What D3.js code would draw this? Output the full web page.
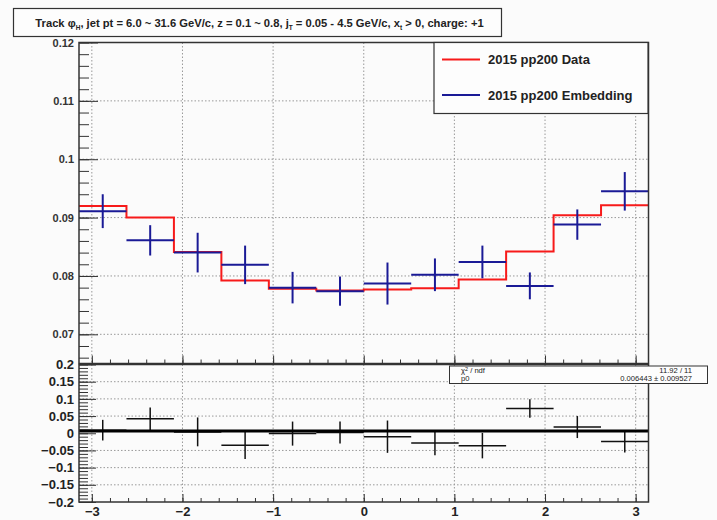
<!DOCTYPE html>
<html>
<head>
<meta charset="utf-8">
<script src="https://cdn.jsdelivr.net/npm/d3@7"></script>
<style>
  html, body { margin: 0; padding: 0; background: #fbfbfb; }
  svg { display: block; font-family: "Liberation Sans", Arial, sans-serif; }
</style>
</head>
<body>
<svg id="chart" width="717" height="520"></svg>
<script>
// ---------------- data ----------------
const binCenters = [-2.8798, -2.3562, -1.8326, -1.3090, -0.7854, -0.2618, 0.2618, 0.7854, 1.3090, 1.8326, 2.3562, 2.8798];
const binHalfWidth = 0.2618;
const dataValues   = [0.0920, 0.0900, 0.0841, 0.0792, 0.0778, 0.0775, 0.0777, 0.0779, 0.0794, 0.0842, 0.0904, 0.0921];
const embedValues  = [0.0911, 0.0861, 0.0840, 0.0819, 0.0780, 0.0774, 0.0787, 0.0802, 0.0824, 0.0783, 0.0888, 0.0945];
const embedErrors  = [0.0029, 0.0026, 0.0034, 0.0033, 0.0027, 0.0025, 0.0036, 0.0028, 0.0028, 0.0023, 0.0026, 0.0033];
const diffValues   = [0.009, 0.042, 0.004, -0.035, -0.001, 0.002, -0.010, -0.028, -0.036, 0.072, 0.018, -0.024];
const diffErrors   = [0.030, 0.033, 0.042, 0.040, 0.035, 0.032, 0.047, 0.036, 0.037, 0.027, 0.032, 0.032];
const fitP0 = 0.006443;
const fitStats = { chi2ndf: "11.92 / 11", p0: "0.006443 \u00b1 0.009527" };
const xTickLabels = [-3, -2, -1, 0, 1, 2, 3];
const yTickLabelsTop = [0.07, 0.08, 0.09, 0.1, 0.11, 0.12];
const yTickLabelsBottom = [-0.2, -0.15, -0.1, -0.05, 0, 0.05, 0.1, 0.15, 0.2];
const legendLabels = ["2015 pp200 Data", "2015 pp200 Embedding"];

// ---------------- layout ----------------
const svg = d3.select("#chart");
const L = 79, R = 648.5;
const topT = 42.5, topB = 363.5;
const botT = 364.5, botB = 502;
const frameColor = "#333";
const red = "#f71a1a", blue = "#1a1a96";

const x = d3.scaleLinear().domain([-Math.PI, Math.PI]).range([L, R]);
const yTop = d3.scaleLinear().domain([0.065, 0.12]).range([topB, topT]);
const yBot = d3.scaleLinear().domain([-0.2, 0.2]).range([botB, botT]);

const bins = binCenters.map((c, i) => ({
  c, x0: c - binHalfWidth, x1: c + binHalfWidth,
  d: dataValues[i], e: embedValues[i], ee: embedErrors[i],
  r: diffValues[i], re: diffErrors[i]
}));

// ---------------- grids ----------------
function grid(g, yScale, yVals, y0, y1) {
  g.selectAll("line.gx").data(xTickLabels).join("line")
    .attr("x1", d => x(d)).attr("x2", d => x(d))
    .attr("y1", y0).attr("y2", y1)
    .attr("stroke", "#999").attr("stroke-width", 1).attr("stroke-dasharray", "1.5,2");
  g.selectAll("line.gy").data(yVals).join("line")
    .attr("x1", L).attr("x2", R)
    .attr("y1", d => yScale(d)).attr("y2", d => yScale(d))
    .attr("stroke", "#999").attr("stroke-width", 1).attr("stroke-dasharray", "1.5,2");
}
grid(svg.append("g"), yTop, [0.07, 0.08, 0.09, 0.1, 0.11], topT, topB);
grid(svg.append("g"), yBot, [-0.15, -0.1, -0.05, 0.05, 0.1, 0.15], botT, botB);

// ---------------- axes ----------------
function styleAxis(g) {
  g.select(".domain").remove();
  g.selectAll(".tick line").attr("stroke", frameColor).attr("stroke-width", 1);
}
// top panel y
svg.append("g").attr("transform", `translate(${L},0)`)
  .call(d3.axisLeft(yTop).tickValues(d3.range(0.066, 0.1201, 0.002)).tickSize(-10).tickFormat(""))
  .call(styleAxis);
svg.append("g").attr("transform", `translate(${L},0)`)
  .call(d3.axisLeft(yTop).tickValues(yTickLabelsTop).tickSize(-19).tickPadding(5).tickFormat(d3.format("~g")))
  .call(styleAxis)
  .call(g => g.selectAll("text").attr("font-size", 11).attr("font-weight", "bold").attr("fill", "#333")
      .attr("font-family", "Liberation Sans, Arial, sans-serif"));
// top panel x ticks (no labels)
svg.append("g").attr("transform", `translate(0,${topB})`)
  .call(d3.axisBottom(x).tickValues(d3.range(-3.0, 3.01, 0.2)).tickSize(-4).tickFormat(""))
  .call(styleAxis);
svg.append("g").attr("transform", `translate(0,${topB})`)
  .call(d3.axisBottom(x).tickValues(xTickLabels).tickSize(-8).tickFormat(""))
  .call(styleAxis);

// bottom panel y
svg.append("g").attr("transform", `translate(${L},0)`)
  .call(d3.axisLeft(yBot).tickValues(d3.range(-0.2, 0.2001, 0.01)).tickSize(-9).tickFormat(""))
  .call(styleAxis);
svg.append("g").attr("transform", `translate(${L},0)`)
  .call(d3.axisLeft(yBot).tickValues(yTickLabelsBottom).tickSize(-17).tickPadding(5).tickFormat(d3.format("~g")))
  .call(styleAxis)
  .call(g => g.selectAll("text").attr("font-size", 13).attr("font-weight", "bold").attr("fill", "#222")
      .attr("font-family", "Liberation Sans, Arial, sans-serif"));
// bottom panel x
svg.append("g").attr("transform", `translate(0,${botB})`)
  .call(d3.axisBottom(x).tickValues(d3.range(-3.0, 3.01, 0.2)).tickSize(-4).tickFormat(""))
  .call(styleAxis);
svg.append("g").attr("transform", `translate(0,${botB})`)
  .call(d3.axisBottom(x).tickValues(xTickLabels).tickSize(-8).tickPadding(5).tickFormat(d3.format("~g")))
  .call(styleAxis)
  .call(g => g.selectAll("text").attr("font-size", 13).attr("font-weight", "bold").attr("fill", "#222")
      .attr("font-family", "Liberation Sans, Arial, sans-serif"));

// ---------------- top panel marks ----------------
const stepPts = [];
bins.forEach(b => { stepPts.push([b.x0, b.d]); stepPts.push([b.x1, b.d]); });
svg.append("path")
  .attr("d", d3.line().x(p => x(p[0])).y(p => yTop(p[1]))(stepPts))
  .attr("fill", "none").attr("stroke", red).attr("stroke-width", 2);

const emb = svg.append("g").attr("stroke", blue).attr("stroke-width", 2);
emb.selectAll("line.h").data(bins).join("line")
  .attr("x1", b => x(b.x0)).attr("x2", b => x(b.x1))
  .attr("y1", b => yTop(b.e)).attr("y2", b => yTop(b.e));
emb.selectAll("line.v").data(bins).join("line")
  .attr("x1", b => x(b.c)).attr("x2", b => x(b.c))
  .attr("y1", b => yTop(b.e - b.ee)).attr("y2", b => yTop(b.e + b.ee));

// ---------------- bottom panel marks ----------------
const rg = svg.append("g").attr("stroke", "#111").attr("stroke-width", 1.5);
rg.selectAll("line.h").data(bins).join("line")
  .attr("x1", b => x(b.x0)).attr("x2", b => x(b.x1))
  .attr("y1", b => yBot(b.r)).attr("y2", b => yBot(b.r));
rg.selectAll("line.v").data(bins).join("line")
  .attr("x1", b => x(b.c)).attr("x2", b => x(b.c))
  .attr("y1", b => yBot(b.r - b.re)).attr("y2", b => yBot(b.r + b.re));
svg.append("line")
  .attr("x1", x(-Math.PI)).attr("x2", x(Math.PI))
  .attr("y1", yBot(fitP0)).attr("y2", yBot(fitP0))
  .attr("stroke", "#000").attr("stroke-width", 3);

// ---------------- frames ----------------
svg.append("rect").attr("x", L).attr("y", topT).attr("width", R - L).attr("height", topB - topT)
  .attr("fill", "none").attr("stroke", frameColor).attr("stroke-width", 1.5);
svg.append("rect").attr("x", L).attr("y", botT).attr("width", R - L).attr("height", botB - botT)
  .attr("fill", "none").attr("stroke", frameColor).attr("stroke-width", 1.5);

// ---------------- legend ----------------
const lg = svg.append("g");
lg.append("rect").attr("x", 434).attr("y", 42.5).attr("width", 214).attr("height", 71)
  .attr("fill", "#fdfdfd").attr("stroke", frameColor).attr("stroke-width", 1.2);
const legendColors = [red, blue];
const legendY = [59.5, 95];
legendLabels.forEach((t, i) => {
  lg.append("line").attr("x1", 442).attr("x2", 480).attr("y1", legendY[i]).attr("y2", legendY[i])
    .attr("stroke", legendColors[i]).attr("stroke-width", 2);
  lg.append("text").attr("x", 488).attr("y", legendY[i] + 4.6)
    .attr("font-size", 13).attr("font-weight", "bold").attr("fill", "#222").text(t);
});

// ---------------- stats box ----------------
const sb = svg.append("g");
sb.append("rect").attr("x", 449.5).attr("y", 366).attr("width", 258).attr("height", 17.5)
  .attr("fill", "#fdfdfd").attr("stroke", frameColor).attr("stroke-width", 1);
const chi = sb.append("text").attr("x", 461).attr("y", 373.3).attr("font-size", 7.6).attr("fill", "#222");
chi.append("tspan").text("\u03c7");
chi.append("tspan").attr("dy", -2.5).attr("font-size", 5.5).text("2");
chi.append("tspan").attr("dy", 2.5).text(" / ndf");
sb.append("text").attr("x", 461).attr("y", 381.2).attr("font-size", 7.6).attr("fill", "#222").text("p0");
sb.append("text").attr("x", 692).attr("y", 373.3).attr("font-size", 7.6).attr("text-anchor", "end")
  .attr("fill", "#222").text(fitStats.chi2ndf);
sb.append("text").attr("x", 692).attr("y", 381.2).attr("font-size", 7.6).attr("text-anchor", "end")
  .attr("fill", "#222").text(fitStats.p0);

// ---------------- title ----------------
const tg = svg.append("g");
tg.append("rect").attr("x", 13.5).attr("y", 8.5).attr("width", 488).attr("height", 28)
  .attr("fill", "#fdfdfd").attr("stroke", frameColor).attr("stroke-width", 1.2);
const tt = tg.append("text").attr("x", 259.5).attr("y", 26.5).attr("text-anchor", "middle")
  .attr("font-size", 11.2).attr("font-weight", "bold").attr("fill", "#222");
tt.append("tspan").text("Track  \u03c6");
tt.append("tspan").attr("dy", 3).attr("font-size", 6.5).text("H");
tt.append("tspan").attr("dy", -3).text(", jet pt = 6.0 ~ 31.6 GeV/c, z = 0.1 ~ 0.8, j");
tt.append("tspan").attr("dy", 3).attr("font-size", 6.5).text("T");
tt.append("tspan").attr("dy", -3).text(" = 0.05 - 4.5 GeV/c, x");
tt.append("tspan").attr("dy", 3).attr("font-size", 6.5).text("t");
tt.append("tspan").attr("dy", -3).text(" > 0, charge: +1");
</script>
</body>
</html>
